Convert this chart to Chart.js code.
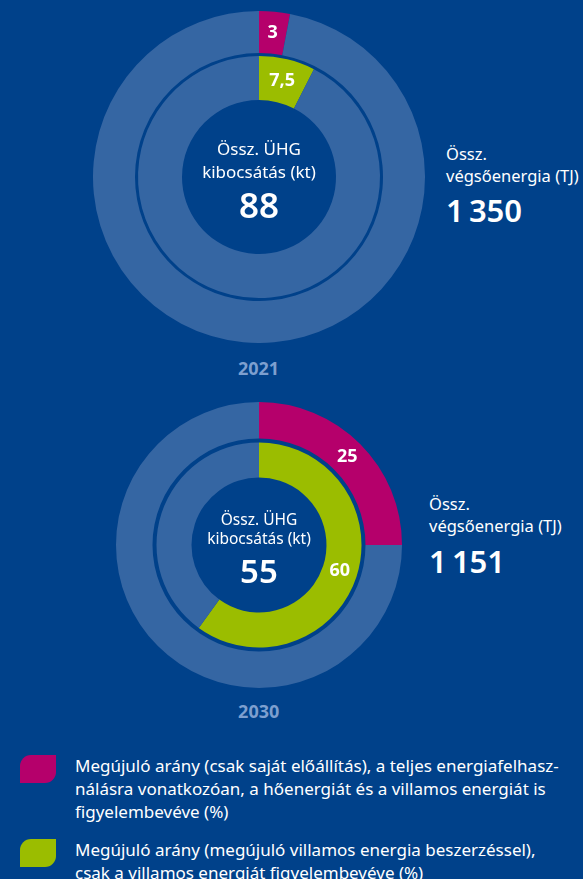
<!DOCTYPE html>
<html lang="hu">
<head>
  <meta charset="UTF-8" />
  <title>Megújuló arány 2021 / 2030</title>
  <script src="https://cdn.jsdelivr.net/npm/chart.js"></script>
  <style>
    body {
      margin: 0;
      width: 583px;
      height: 879px;
      background-color: #00418a;
      color: #fff;
      font-family: 'Noto Sans', sans-serif;
      position: relative;
      overflow: hidden;
    }

    .ring, .side, .big, .year, .swatch, .legend-text {
      position: absolute;
    }

    .side {
      font-size: 16.5px;
      line-height: 22px;
      white-space: nowrap;
    }

    .big {
      font-size: 31px;
      line-height: 31px;
      font-weight: 600;
      white-space: nowrap;
    }

    .year {
      width: 120px;
      text-align: center;
      font-size: 18px;
      line-height: 18px;
      font-weight: bold;
      color: #7d9fcf;
    }

    .swatch {
      left: 20px;
      width: 36px;
      height: 28px;
      border-radius: 11px 0 11px 0;
    }

    .legend-text {
      left: 75px;
      font-size: 17px;
      line-height: 23px;
      white-space: nowrap;
    }
  </style>
</head>
<body>

  <script>
    // data
    const years = ['2021', '2030'];
    const selfShare = [3, 25];        // magenta, outer ring (%)
    const greenShare = [7.5, 60];     // green, inner ring (%)
    const ghgKt = [88, 55];
    const finalEnergyTJ = [1350, 1151];
    const centerLabel = ['Össz. ÜHG', 'kibocsátás (kt)'];
    const sideLabel = ['Össz.', 'végsőenergia (TJ)'];
    const categories = [
      ['Megújuló arány (csak saját előállítás), a teljes energiafelhasz-',
       'nálásra vonatkozóan, a hőenergiát és a villamos energiát is',
       'figyelembevéve (%)'],
      ['Megújuló arány (megújuló villamos energia beszerzéssel),',
       'csak a villamos energiát figyelembevéve (%)']
    ];

    const MAGENTA = '#b5006b';
    const GREEN = '#9bbd00';
    const RING = '#3566a3';
    const seriesColors = [MAGENTA, GREEN];

    // layout of the two panels
    const panels = [
      { cx: 258.5, cy: 177, r: 166, cut: 77, w: [42, 3, 44],
        font: 17, bigFont: 35, offs: [-22, 1, 41],
        sideX: 446, sideY: 160, bigY: 222, yearY: 375 },
      { cx: 258.7, cy: 545.3, r: 143, cut: 67.5, w: [36.5, 4, 35],
        font: 15.5, bigFont: 33, offs: [-20, -1, 38],
        sideX: 429, sideY: 510, bigY: 573, yearY: 718 }
    ];

    const fmt = v => String(v).replace('.', ',');
    const fmtThousands = v => String(v).replace(/\B(?=(\d{3})+(?!\d))/g, '\u2009');

    const ringText = {
      id: 'ringText',
      afterDatasetsDraw(chart, args, opts) {
        const ctx = chart.ctx;
        ctx.save();
        ctx.fillStyle = '#fff';
        ctx.textAlign = 'center';

        // value labels on the coloured arcs
        ctx.textBaseline = 'middle';
        ctx.font = 'bold 18px "Noto Sans"';
        [0, 2].forEach(di => {
          const arc = chart.getDatasetMeta(di).data[0];
          const p = arc.getCenterPoint();
          ctx.fillText(fmt(chart.data.datasets[di].data[0]), p.x, p.y);
        });

        // centre text
        const c = chart.getDatasetMeta(0).data[0];
        ctx.textBaseline = 'alphabetic';
        ctx.font = opts.font + 'px "Noto Sans"';
        ctx.fillText(centerLabel[0], c.x, c.y + opts.offs[0]);
        ctx.fillText(centerLabel[1], c.x, c.y + opts.offs[1]);
        ctx.font = '600 ' + opts.bigFont + 'px "Noto Sans"';
        ctx.fillText(String(opts.value), c.x, c.y + opts.offs[2]);
        ctx.restore();
      }
    };

    function addDiv(cls, left, top, html, bg) {
      const d = document.createElement('div');
      d.className = cls;
      d.style.left = left + 'px';
      d.style.top = top + 'px';
      if (html) d.innerHTML = html;
      if (bg) d.style.backgroundColor = bg;
      document.body.appendChild(d);
      return d;
    }

    panels.forEach((p, i) => {
      const size = p.r * 2;
      const wrap = addDiv('ring', p.cx - p.r, p.cy - p.r);
      const canvas = document.createElement('canvas');
      canvas.width = size;
      canvas.height = size;
      canvas.style.width = size + 'px';
      canvas.style.height = size + 'px';
      wrap.appendChild(canvas);

      new Chart(canvas, {
        type: 'doughnut',
        data: {
          labels: ['share', 'rest'],
          datasets: [
            { data: [selfShare[i], 100 - selfShare[i]], backgroundColor: [MAGENTA, RING], weight: p.w[0] },
            { data: [1], backgroundColor: ['rgba(0,0,0,0)'], weight: p.w[1] },
            { data: [greenShare[i], 100 - greenShare[i]], backgroundColor: [GREEN, RING], weight: p.w[2] }
          ]
        },
        options: {
          responsive: false,
          animation: false,
          events: [],
          cutout: p.cut,
          borderWidth: 0,
          hoverOffset: 0,
          layout: { padding: 0 },
          plugins: {
            legend: { display: false },
            tooltip: { enabled: false },
            ringText: { font: p.font, bigFont: p.bigFont, offs: p.offs, value: ghgKt[i] }
          }
        },
        plugins: [ringText]
      });

      // side text: total final energy
      addDiv('side', p.sideX, p.sideY - 17.4, sideLabel.join('<br>'));
      addDiv('big', p.sideX, p.bigY - 27.5, fmtThousands(finalEnergyTJ[i]));

      // year under the ring
      addDiv('year', p.cx - 60, p.yearY - 16, years[i]);
    });

    // legend
    const legendTop = [755, 839];
    categories.forEach((lines, i) => {
      addDiv('swatch', 20, legendTop[i], '', seriesColors[i]);
      addDiv('legend-text', 75, legendTop[i] + 17 - 18.1, lines.join('<br>'));
    });
  </script>
</body>
</html>
